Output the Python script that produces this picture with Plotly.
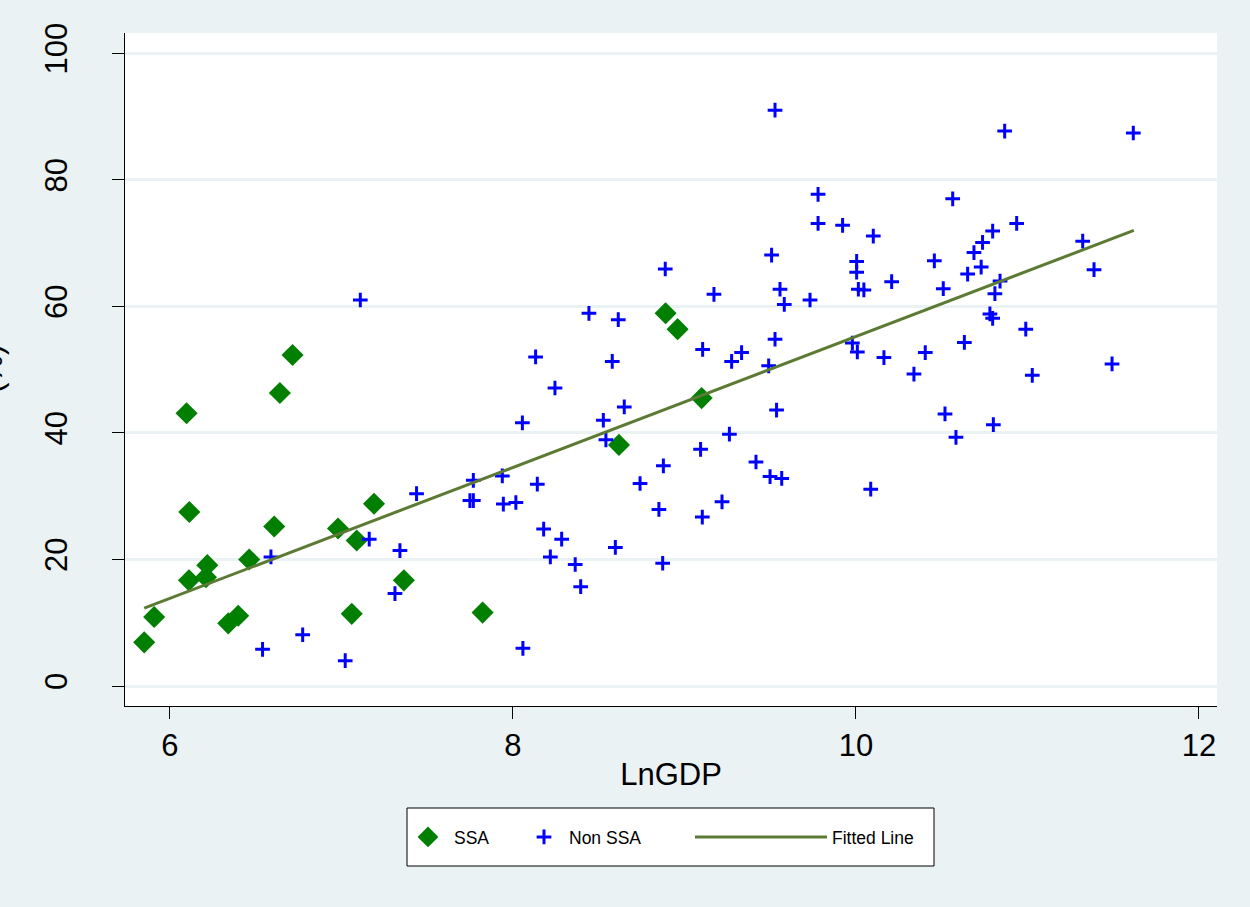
import plotly.graph_objects as go

# ---- data ----
ssa_x = [6.097, 6.641, 6.715, 6.113, 6.608, 6.218, 6.111, 6.210, 6.462, 5.908,
         5.850, 6.340, 6.398, 6.980, 7.089, 7.190, 7.364, 7.060, 7.823, 8.890,
         8.960, 9.100, 8.618]
ssa_y = [43.1, 46.3, 52.3, 27.5, 25.2, 19.1, 16.7, 17.2, 20.0, 10.9,
         6.9, 9.9, 11.1, 24.9, 23.0, 28.8, 16.7, 11.4, 11.6, 58.9,
         56.4, 45.5, 38.1]

non_x = [6.540, 6.774, 7.022, 6.589, 7.162, 7.341, 7.312, 7.438, 7.110,
         9.508, 8.888, 9.172, 9.557, 9.582, 9.732, 8.443, 8.614, 9.528, 9.106,
         9.333, 9.275, 9.491, 8.132, 8.579, 8.245, 8.649, 9.537, 8.055, 8.527,
         9.262, 8.542, 9.094, 9.417, 8.877,
         7.769, 7.938, 7.749, 7.769, 7.944, 8.017, 8.142, 8.741, 8.851, 9.104,
         9.219, 9.499, 9.567, 8.179, 8.284, 8.218, 8.597, 8.363, 8.873, 8.395,
         8.058,
         10.867, 11.617, 9.779, 10.564, 9.779, 9.922, 10.101, 10.797, 10.937,
         10.738, 10.688, 11.322, 10.004, 10.004, 10.457, 10.730, 10.651, 11.388,
         10.208, 10.014, 10.046, 10.509, 10.840, 10.810,
         10.781, 10.797, 10.990, 10.632, 9.979, 10.008, 10.163, 10.404, 10.338,
         11.028, 11.493, 10.519, 10.801, 10.583, 10.086,
         9.528]
non_y = [5.8, 8.1, 4.0, 20.4, 23.2, 21.4, 14.6, 30.4, 61.0,
         68.1, 65.9, 61.9, 62.7, 60.3, 61.0, 58.9, 57.9, 54.8, 53.2,
         52.7, 51.3, 50.6, 52.0, 51.3, 47.1, 44.1, 43.6, 41.6, 42.0,
         39.8, 38.9, 37.4, 35.4, 34.8,
         32.5, 33.2, 29.3, 29.3, 28.75, 29.0, 31.9, 32.0, 27.9, 26.7,
         29.1, 33.1, 32.8, 24.8, 23.2, 20.4, 21.9, 19.2, 19.4, 15.7,
         5.95,
         87.7, 87.4, 77.7, 77.0, 73.1, 72.8, 71.1, 71.9, 73.1,
         70.1, 68.5, 70.3, 67.1, 65.4, 67.2, 66.2, 65.1, 65.8,
         63.9, 62.7, 62.6, 62.8, 64.0, 62.0,
         58.8, 58.1, 56.4, 54.3, 54.2, 52.8, 51.9, 52.7, 49.3,
         49.1, 50.9, 43.0, 41.3, 39.3, 31.1,
         91.0]

fit_x = [5.85, 11.62]
fit_y = [12.3, 72.0]

x_ticks = [6, 8, 10, 12]
y_ticks = [0, 20, 40, 60, 80, 100]

# ---- figure ----
W, H = 1250, 907
ML, MR, MT, MB = 125, 33, 33, 201
PW = W - ML - MR
PH = H - MT - MB

def px_x(p):
    return (p - ML) / PW

def px_y(p):
    return (H - MB - p) / PH

BG = "#EAF2F3"
FONT = "Arial, Liberation Sans, sans-serif"

fig = go.Figure()

fig.add_trace(go.Scatter(
    x=ssa_x, y=ssa_y, mode="markers", name="SSA", legend="legend",
    showlegend=True,
    marker=dict(symbol="diamond", size=17, color="#007F00",
                line=dict(width=0)),
))
fig.add_trace(go.Scatter(
    x=non_x, y=non_y, mode="markers", name="Non SSA", legend="legend2",
    showlegend=True,
    marker=dict(symbol="cross-thin", size=10.5, color="#0000FF",
                line=dict(width=3, color="#0000FF")),
))
fig.add_trace(go.Scatter(
    x=fit_x, y=fit_y, mode="lines", name="Fitted Line", legend="legend3",
    showlegend=True,
    line=dict(color="#5B7B34", width=3),
))

leg_common = dict(orientation="h", bgcolor="rgba(0,0,0,0)", borderwidth=0,
                  yanchor="middle", y=px_y(837), xanchor="left",
                  font=dict(family=FONT, size=17.5, color="black"))

fig.update_layout(
    width=W, height=H, showlegend=True,
    margin=dict(l=ML, r=MR, t=MT, b=MB, autoexpand=False),
    paper_bgcolor=BG, plot_bgcolor="white",
    font=dict(family=FONT, color="black"),
    legend=dict(**leg_common, x=px_x(402), itemwidth=42),
    legend2=dict(**leg_common, x=px_x(519), itemwidth=40),
    legend3=dict(**leg_common, x=px_x(690), itemwidth=132),
    xaxis=dict(
        range=[5.738, 12.105], tickvals=x_ticks, ticks="outside", ticklen=12,
        tickwidth=1.3, tickcolor="black", showline=True, linecolor="black",
        linewidth=1.3, showgrid=False, zeroline=False,
        tickfont=dict(family=FONT, size=31), ticklabelstandoff=0,
        title=dict(text="LnGDP", font=dict(family=FONT, size=31), standoff=0),
        automargin=False,
    ),
    yaxis=dict(
        range=[-3.16, 103.2], tickvals=y_ticks, ticks="outside", ticklen=12,
        tickwidth=1.3, tickcolor="black", showline=True, linecolor="black",
        linewidth=1.3, showgrid=True, gridcolor=BG, gridwidth=2.5,
        zeroline=False, tickangle=-90,
        tickfont=dict(family=FONT, size=31), ticklabelstandoff=32,
        automargin=False,
    ),
    shapes=[dict(type="rect", xref="paper", yref="paper",
                 x0=px_x(407), x1=px_x(934), y0=px_y(866), y1=px_y(808),
                 line=dict(color="black", width=1), fillcolor="white",
                 layer="below")],
    annotations=[dict(text="(%)", xref="paper", yref="paper",
                      x=px_x(11), xanchor="right", y=0.5, yanchor="middle",
                      textangle=-90, showarrow=False,
                      font=dict(family=FONT, size=31, color="black"))],
)

fig.write_html("out.html",
               config={"displayModeBar": False},
               post_script="document.body.style.margin='0';"
                           "document.body.style.overflow='hidden';")
